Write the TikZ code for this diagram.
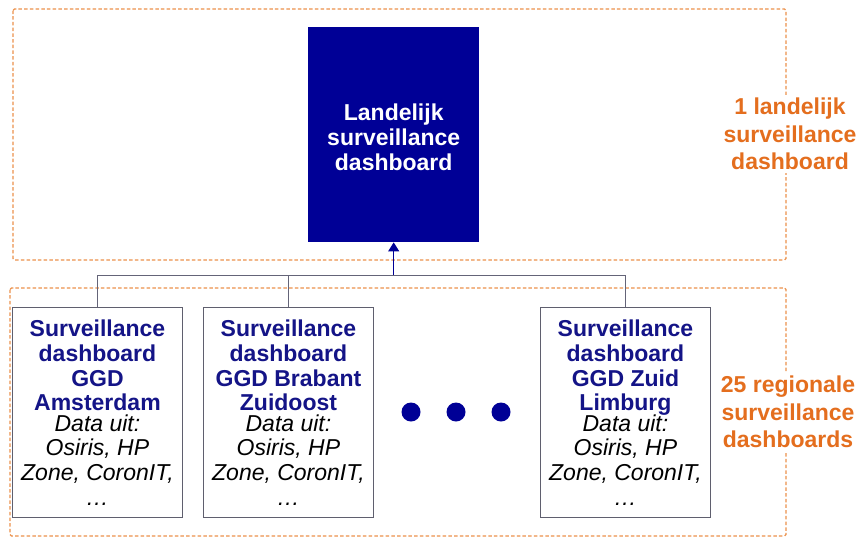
\documentclass[tikz,border=0pt]{standalone}
\usepackage{fontspec}
\setmainfont{Liberation Sans}
\usetikzlibrary{arrows.meta}
\definecolor{navyfill}{RGB}{0,0,150}
\definecolor{navytext}{RGB}{20,20,135}
\definecolor{orangetext}{RGB}{228,110,30}
\definecolor{orangedash}{RGB}{235,145,75}
\definecolor{boxline}{RGB}{95,95,110}
\definecolor{linkline}{RGB}{100,100,120}
\newcommand{\dataline}[1]{{\mdseries\itshape\color{black}#1}}
\tikzset{
  groupframe/.style={draw=orangedash, line width=1.2pt, dash pattern=on 3.5pt off 2.2pt, rounded corners=1.5pt},
  grouplabel/.style={fill=white, text=orangetext, align=center, inner sep=3pt,
    font={\fontsize{23}{27.5}\selectfont\bfseries}},
  regbox/.style={draw=boxline, line width=0.9pt, fill=white, minimum width=170pt, minimum height=210pt,
    anchor=north west, inner sep=0pt},
  regtext/.style={anchor=north, align=center, inner sep=0pt, text=navytext,
    font={\fontsize{23}{24.7}\selectfont\bfseries}},
  natbox/.style={fill=navyfill, minimum width=171pt, minimum height=215pt, anchor=north west, inner sep=0pt},
  nattext/.style={text=white, align=center, inner sep=0pt, yshift=-3pt, font={\fontsize{23}{25}\selectfont\bfseries}},
  link/.style={draw=linkline, line width=0.9pt},
  uparrow/.style={draw=navyfill, line width=1pt, -{Triangle[length=9pt,width=11pt]}},
  moredot/.style={circle, fill=navyfill, minimum size=19pt, inner sep=0pt}
}
\begin{document}
\begin{tikzpicture}[x=1pt,y=-1pt]
\useasboundingbox (0,0) rectangle (861,538);
% group frames
\draw[groupframe] (13,9) rectangle (786,260);
\draw[groupframe] (10,288) rectangle (786,536);
\node[grouplabel] (lbltop) at (790,134) {1 landelijk\\surveillance\\dashboard};
\node[grouplabel] (lblbot) at (788,412) {25 regionale\\surveillance\\dashboards};
% national dashboard
\node[natbox, label={[nattext]center:Landelijk\\surveillance\\dashboard}] (land) at (308,27) {};
% regional dashboards
\node[regbox] (b1) at (12,307) {};
\node[regbox] (b2) at (203,307) {};
\node[regbox] (b3) at (540,307) {};
\foreach \b/\t in {b1/{Surveillance\\dashboard\\GGD\\Amsterdam},
                   b2/{Surveillance\\dashboard\\GGD Brabant\\Zuidoost},
                   b3/{Surveillance\\dashboard\\GGD Zuid\\Limburg}}{
  \node[regtext] (\b txt) at ([yshift=-13pt]\b.north)
    {\t\\[-4.5pt]\dataline{Data uit:}\\\dataline{Osiris, HP}\\\dataline{Zone, CoronIT,}\\\dataline{\dots}};
}
% more dots
\node[moredot] (d1) at (411,412) {};
\node[moredot] (d2) at (456,412) {};
\node[moredot] (d3) at (501,412) {};
% connectors
\coordinate (hub) at (land.south |- 0,275);
\draw[link] (b1.north) |- (hub);
\draw[link] (b2.north) |- (hub);
\draw[link] (b3.north) |- (hub);
\draw[uparrow] (hub) -- (land.south);
\end{tikzpicture}
\end{document}
